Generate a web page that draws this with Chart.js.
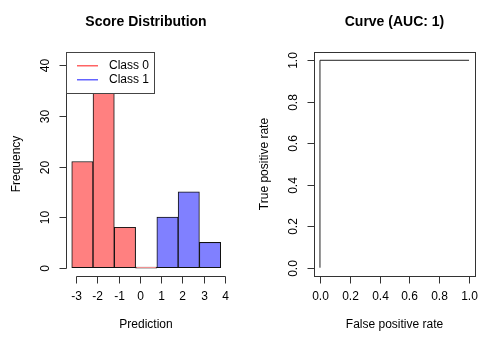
<!DOCTYPE html>
<html>
<head>
<meta charset="utf-8">
<script src="https://cdn.jsdelivr.net/npm/chart.js@4.4.0/dist/chart.umd.min.js"></script>
<style>
  html, body { margin: 0; padding: 0; background: #fff; }
  #wrap { position: relative; width: 497px; height: 339px; }
  .panel { position: absolute; top: 0; height: 339px; }
  #left { left: 0; width: 248px; }
  #right { left: 248px; width: 249px; }
</style>
</head>
<body>
<div id="wrap">
  <div class="panel" id="left"><canvas id="histChart"></canvas></div>
  <div class="panel" id="right"><canvas id="rocChart"></canvas></div>
</div>
<script>
// ---- data ----
const class0Mids = [-2.7, -1.7, -0.7, 0.3];
const class0Counts = [21, 35, 8, 0];
const class1Mids = [1.3, 2.3, 3.3];
const class1Counts = [10, 15, 5];
const histTicksX = [-3, -2, -1, 0, 1, 2, 3, 4];
const histTicksY = [0, 10, 20, 30, 40];
const legendLabels = ['Class 0', 'Class 1'];
const legendColors = ['rgb(255,100,100)', 'rgb(100,100,255)'];

const rocFpr = [0, 0, 1];
const rocTpr = [0, 1, 1];
const rocTicks = [0, 0.2, 0.4, 0.6, 0.8, 1.0];

const FONT = "'Liberation Sans', Arial, Helvetica, sans-serif";

// ---- R-like axes, titles, legend ----
const rStyle = {
  id: 'rStyle',
  afterDatasetsDraw(chart, args, opts) {
    const ctx = chart.ctx;
    const area = chart.chartArea;
    const xs = chart.scales.x, ys = chart.scales.y;
    const L = Math.round(area.left) + 0.5, B = Math.round(area.bottom) + 0.5;
    ctx.save();
    ctx.strokeStyle = '#333';
    ctx.lineWidth = 1;
    ctx.fillStyle = '#000';

    if (opts.box) {
      ctx.strokeRect(L, Math.round(area.top) + 0.5,
        Math.round(area.right) - Math.round(area.left), Math.round(area.bottom) - Math.round(area.top));
    }

    // x axis
    const xp = opts.xTicks.map(v => Math.round(xs.getPixelForValue(v)) + 0.5);
    ctx.beginPath();
    ctx.moveTo(xp[0], B); ctx.lineTo(xp[xp.length - 1], B);
    xp.forEach(p => { ctx.moveTo(p, B); ctx.lineTo(p, B + 7); });
    ctx.stroke();
    ctx.font = '12px ' + FONT;
    ctx.textAlign = 'center';
    ctx.textBaseline = 'middle';
    opts.xTicks.forEach((v, i) => ctx.fillText(opts.fmt(v), xp[i], 297));

    // y axis
    const yp = opts.yTicks.map(v => Math.round(ys.getPixelForValue(v)) + 0.5);
    ctx.beginPath();
    ctx.moveTo(L, yp[0]); ctx.lineTo(L, yp[yp.length - 1]);
    yp.forEach(p => { ctx.moveTo(L, p); ctx.lineTo(L - 7, p); });
    ctx.stroke();
    opts.yTicks.forEach((v, i) => {
      ctx.save();
      ctx.translate(L - 21, yp[i]);
      ctx.rotate(-Math.PI / 2);
      ctx.fillText(opts.fmt(v), 0, 0);
      ctx.restore();
    });

    // axis titles and main title
    const cx = (area.left + area.right) / 2;
    ctx.fillText(opts.xTitle, cx, 325);
    ctx.save();
    ctx.translate(17, (area.top + area.bottom) / 2);
    ctx.rotate(-Math.PI / 2);
    ctx.fillText(opts.yTitle, 0, 0);
    ctx.restore();
    ctx.font = 'bold 14px ' + FONT;
    ctx.fillText(opts.title, cx, 22);

    // legend
    if (opts.showLegend) {
      const lx = Math.round(area.left), ly = Math.round(area.top);
      ctx.fillStyle = '#fff';
      ctx.fillRect(lx + 0.5, ly + 0.5, 88, 41);
      ctx.strokeStyle = '#444';
      ctx.strokeRect(lx + 0.5, ly + 0.5, 88, 41);
      ctx.font = '12px ' + FONT;
      ctx.textAlign = 'left';
      legendLabels.forEach((t, i) => {
        const y = ly + 13 + i * 14;
        ctx.fillStyle = legendColors[i];
        ctx.fillRect(lx + 11, y, 21, 1.5);
        ctx.fillStyle = '#000';
        ctx.fillText(t, lx + 43, y + 0.5);
      });
    }
    ctx.restore();
  }
};

// ---- histogram ----
new Chart(document.getElementById('histChart'), {
  type: 'bar',
  data: {
    datasets: [
      {
        data: class0Mids.map((m, i) => ({ x: m, y: class0Counts[i] })),
        backgroundColor: '#ff8080',
        borderColor: '#111',
        borderWidth: 1,
        borderSkipped: false,
        minBarLength: 1,
        grouped: false,
        barPercentage: 1,
        categoryPercentage: 1
      },
      {
        data: class1Mids.map((m, i) => ({ x: m, y: class1Counts[i] })),
        backgroundColor: '#8080ff',
        borderColor: '#111',
        borderWidth: 1,
        borderSkipped: false,
        grouped: false,
        barPercentage: 1,
        categoryPercentage: 1
      }
    ]
  },
  options: {
    responsive: true,
    maintainAspectRatio: false,
    animation: false,
    layout: { padding: { left: 66, right: 22, top: 52, bottom: 63 } },
    scales: {
      x: { type: 'linear', display: false, offset: false, min: -3.47, max: 4.05 },
      y: { display: false, min: -1.64, max: 42.64 }
    },
    plugins: {
      legend: { display: false },
      tooltip: { enabled: false },
      rStyle: {
        xTicks: histTicksX, yTicks: histTicksY,
        fmt: v => String(v),
        xTitle: 'Prediction', yTitle: 'Frequency', title: 'Score Distribution',
        showLegend: true
      }
    }
  },
  plugins: [rStyle]
});

// ---- ROC curve ----
new Chart(document.getElementById('rocChart'), {
  type: 'line',
  data: {
    datasets: [{
      data: rocFpr.map((f, i) => ({ x: f, y: rocTpr[i] })),
      borderColor: '#222',
      borderWidth: 1,
      pointRadius: 0,
      tension: 0,
      fill: false
    }]
  },
  options: {
    responsive: true,
    maintainAspectRatio: false,
    animation: false,
    layout: { padding: { left: 66, right: 22, top: 52, bottom: 63 } },
    scales: {
      x: { type: 'linear', display: false, min: -0.04, max: 1.04 },
      y: { display: false, min: -0.04, max: 1.04 }
    },
    plugins: {
      legend: { display: false },
      tooltip: { enabled: false },
      rStyle: {
        xTicks: rocTicks, yTicks: rocTicks,
        fmt: v => v.toFixed(1),
        xTitle: 'False positive rate', yTitle: 'True positive rate', title: 'Curve (AUC: 1)',
        box: true
      }
    }
  },
  plugins: [rStyle]
});
</script>
</body>
</html>
